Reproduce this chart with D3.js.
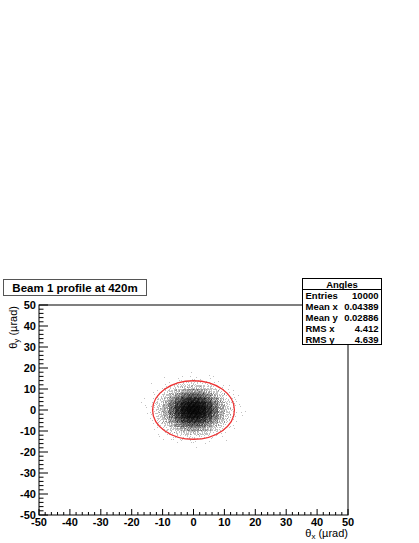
<!DOCTYPE html>
<html>
<head>
<meta charset="utf-8">
<script src="https://cdn.jsdelivr.net/npm/d3@7"></script>
<style>
  body { margin: 0; background: #fff; }
  svg text { font-family: "Liberation Sans", Arial, sans-serif; }
</style>
</head>
<body>
<div id="chart"></div>
<script>
// histogram title and stats box
var titre = "Beam 1 profile at 420m";
var statsName = "Angles";
var statsLabels = ["Entries", "Mean x", "Mean y", "RMS x", "RMS y"];
var statsValues = ["10000", "0.04389", "0.02886", "4.412", "4.639"];

// axes
var xDomain = [-50, 50];
var yDomain = [-50, 50];
var majorTicks = [-50, -40, -30, -20, -10, 0, 10, 20, 30, 40, 50];
var minorTicks = [-48, -46, -44, -42, -38, -36, -34, -32, -28, -26, -24, -22, -18, -16, -14, -12,
                  -8, -6, -4, -2, 2, 4, 6, 8, 12, 14, 16, 18, 22, 24, 26, 28, 32, 34, 36, 38, 42, 44, 46, 48];

// 3 sigma ellipse (centre, radii in µrad)
var ellipseCentre = [0, 0];
var ellipseRadii = [13.24, 13.92];

// scatter cells: lower edges of 2 µrad bins, rows listed from top (y=16..18) to bottom
var binW = 2;
var binX = [-18, -16, -14, -12, -10, -8, -6, -4, -2, 0, 2, 4, 6, 8, 10, 12, 14, 16];
var binY = [16, 14, 12, 10, 8, 6, 4, 2, 0, -2, -4, -6, -8, -10, -12, -14, -16, -18];
var counts = [
  [0, 0, 0, 0, 0, 0, 0, 0, 1,   0, 0, 1, 0, 0, 0, 0, 0, 0],
  [0, 0, 0, 0, 1, 0, 1, 1, 2,   2, 1, 1, 1, 0, 0, 0, 0, 0],
  [0, 0, 1, 0, 1, 2, 3, 5, 6,   7, 5, 4, 2, 1, 0, 0, 0, 0],
  [0, 0, 0, 1, 2, 6, 10, 15, 19,   18, 16, 11, 5, 3, 1, 0, 0, 0],
  [0, 0, 1, 2, 6, 14, 26, 37, 47,   46, 39, 25, 14, 6, 2, 1, 0, 0],
  [0, 0, 1, 5, 13, 29, 52, 80, 98,   96, 79, 54, 28, 12, 5, 2, 1, 0],
  [0, 1, 2, 8, 22, 50, 92, 138, 168,   169, 137, 91, 51, 23, 8, 3, 0, 0],
  [1, 1, 3, 12, 32, 72, 133, 198, 243,   242, 199, 132, 73, 31, 11, 4, 1, 0],
  [0, 1, 4, 14, 38, 87, 159, 238, 292,   291, 239, 159, 86, 39, 14, 4, 1, 0],
  [0, 1, 4, 14, 39, 86, 160, 237, 291,   292, 238, 158, 87, 38, 14, 4, 1, 1],
  [0, 0, 4, 11, 32, 72, 132, 199, 242,   243, 198, 133, 72, 32, 12, 3, 1, 0],
  [0, 0, 3, 8, 22, 50, 92, 137, 169,   168, 138, 92, 50, 22, 8, 2, 1, 0],
  [0, 0, 1, 5, 13, 29, 53, 80, 97,   97, 80, 53, 29, 13, 5, 1, 0, 0],
  [0, 0, 1, 2, 6, 14, 25, 38, 47,   47, 38, 26, 14, 6, 2, 1, 0, 0],
  [0, 0, 0, 1, 3, 6, 10, 15, 19,   19, 15, 10, 6, 2, 1, 0, 0, 0],
  [0, 0, 0, 1, 1, 2, 3, 5, 6,   6, 5, 3, 2, 1, 0, 0, 0, 0],
  [0, 0, 0, 0, 0, 1, 1, 1, 2,   2, 1, 1, 0, 0, 1, 0, 0, 0],
  [0, 0, 0, 0, 0, 0, 0, 0, 0,   1, 0, 0, 0, 0, 0, 0, 0, 0]
];

var totalWidth = 419, totalHeight = 543,
    frame = {left: 39, right: 348, top: 305, bottom: 515};

var x = d3.scaleLinear().domain(xDomain).range([frame.left, frame.right]),
    y = d3.scaleLinear().domain(yDomain).range([frame.bottom, frame.top]);

var svg = d3.select("#chart").append("svg")
    .attr("width", totalWidth)
    .attr("height", totalHeight);

// scatter dots, spread inside each cell on a fixed quasi-uniform pattern
var points = [];
counts.forEach(function(row, r) {
  row.forEach(function(n, c) {
    var s1 = ((r * 18 + c) * 0.6180339887) % 1,
        s2 = ((r * 18 + c) * 0.4142135624) % 1;
    for (var k = 0; k < n; k++) {
      points.push({
        px: binX[c] + binW * ((s1 + (k + 1) * 0.7548776662) % 1),
        py: binY[r] + binW * ((s2 + (k + 1) * 0.5698402910) % 1)
      });
    }
  });
});
svg.append("g")
  .attr("shape-rendering", "crispEdges")
  .selectAll("rect")
  .data(points)
  .join("rect")
    .attr("x", function(d) { return Math.floor(x(d.px)); })
    .attr("y", function(d) { return Math.floor(y(d.py)); })
    .attr("width", 1)
    .attr("height", 1)
    .attr("fill", "#000")
    .attr("fill-opacity", 0.24);

// red ellipse
svg.append("ellipse")
  .attr("cx", x(ellipseCentre[0]))
  .attr("cy", y(ellipseCentre[1]))
  .attr("rx", x(ellipseRadii[0]) - x(0))
  .attr("ry", y(0) - y(ellipseRadii[1]))
  .attr("fill", "none")
  .attr("stroke", "#ee3333")
  .attr("stroke-width", 1.3);

// frame
svg.append("rect")
  .attr("x", frame.left)
  .attr("y", frame.top)
  .attr("width", frame.right - frame.left)
  .attr("height", frame.bottom - frame.top)
  .attr("fill", "none")
  .attr("stroke", "#000")
  .attr("stroke-width", 1);

// x axis (ticks pointing inward)
var xAxis = svg.append("g");
xAxis.selectAll(".maj").data(majorTicks).join("line")
  .attr("x1", function(d) { return x(d); }).attr("x2", function(d) { return x(d); })
  .attr("y1", frame.bottom).attr("y2", frame.bottom - 6)
  .attr("stroke", "#000");
xAxis.selectAll(".min").data(minorTicks).join("line")
  .attr("class", "min")
  .attr("x1", function(d) { return x(d); }).attr("x2", function(d) { return x(d); })
  .attr("y1", frame.bottom).attr("y2", frame.bottom - 3)
  .attr("stroke", "#000");
xAxis.selectAll("text").data(majorTicks).join("text")
  .attr("x", function(d) { return x(d); })
  .attr("y", frame.bottom + 11)
  .attr("text-anchor", "middle")
  .style("font-size", "11px")
  .style("font-weight", "bold")
  .text(function(d) { return d; });

// y axis
var yAxis = svg.append("g");
yAxis.selectAll(".maj").data(majorTicks).join("line")
  .attr("y1", function(d) { return y(d); }).attr("y2", function(d) { return y(d); })
  .attr("x1", frame.left).attr("x2", frame.left + 9)
  .attr("stroke", "#000");
yAxis.selectAll(".min").data(minorTicks).join("line")
  .attr("class", "min")
  .attr("y1", function(d) { return y(d); }).attr("y2", function(d) { return y(d); })
  .attr("x1", frame.left).attr("x2", frame.left + 4.5)
  .attr("stroke", "#000");
yAxis.selectAll("text").data(majorTicks).join("text")
  .attr("x", frame.left - 3)
  .attr("y", function(d) { return y(d) + 4; })
  .attr("text-anchor", "end")
  .style("font-size", "11px")
  .style("font-weight", "bold")
  .text(function(d) { return d; });

// axis titles
var xt = svg.append("text")
  .attr("x", frame.right)
  .attr("y", frame.bottom + 22)
  .attr("text-anchor", "end")
  .style("font-size", "11px");
xt.append("tspan").text("θ");
xt.append("tspan").attr("dy", 2).style("font-size", "8px").text("x");
xt.append("tspan").attr("dy", -2).text(" (µrad)");

var yt = svg.append("text")
  .attr("transform", "translate(17," + (frame.top + 1) + ") rotate(-90)")
  .attr("text-anchor", "end")
  .style("font-size", "11px");
yt.append("tspan").text("θ");
yt.append("tspan").attr("dy", 2).style("font-size", "8px").text("y");
yt.append("tspan").attr("dy", -2).text(" (µrad)");

// title box
svg.append("rect")
  .attr("x", 3.5).attr("y", 279.5)
  .attr("width", 143).attr("height", 16)
  .attr("fill", "#fff")
  .attr("stroke", "#555");
svg.append("text")
  .attr("x", 75).attr("y", 292)
  .attr("text-anchor", "middle")
  .style("font-size", "11.5px")
  .style("font-weight", "bold")
  .text(titre);

// stats box
var sb = {x: 302.5, y: 278.5, w: 79, h: 66, head: 11};
var stats = svg.append("g");
stats.append("rect")
  .attr("x", sb.x).attr("y", sb.y)
  .attr("width", sb.w).attr("height", sb.h)
  .attr("fill", "#fff")
  .attr("stroke", "#000");
stats.append("line")
  .attr("x1", sb.x).attr("x2", sb.x + sb.w)
  .attr("y1", sb.y + sb.head).attr("y2", sb.y + sb.head)
  .attr("stroke", "#000");
stats.append("text")
  .attr("x", sb.x + sb.w / 2).attr("y", sb.y + 9)
  .attr("text-anchor", "middle")
  .style("font-size", "9.5px")
  .style("font-weight", "bold")
  .text(statsName);
stats.selectAll(".lab").data(statsLabels).join("text")
  .attr("x", sb.x + 3)
  .attr("y", function(d, i) { return sb.y + sb.head + 9 + i * 11; })
  .style("font-size", "9.5px")
  .style("font-weight", "bold")
  .text(function(d) { return d; });
stats.selectAll(".val").data(statsValues).join("text")
  .attr("x", sb.x + sb.w - 3)
  .attr("y", function(d, i) { return sb.y + sb.head + 9 + i * 11; })
  .attr("text-anchor", "end")
  .style("font-size", "9.5px")
  .style("font-weight", "bold")
  .text(function(d) { return d; });
</script>
</body>
</html>
